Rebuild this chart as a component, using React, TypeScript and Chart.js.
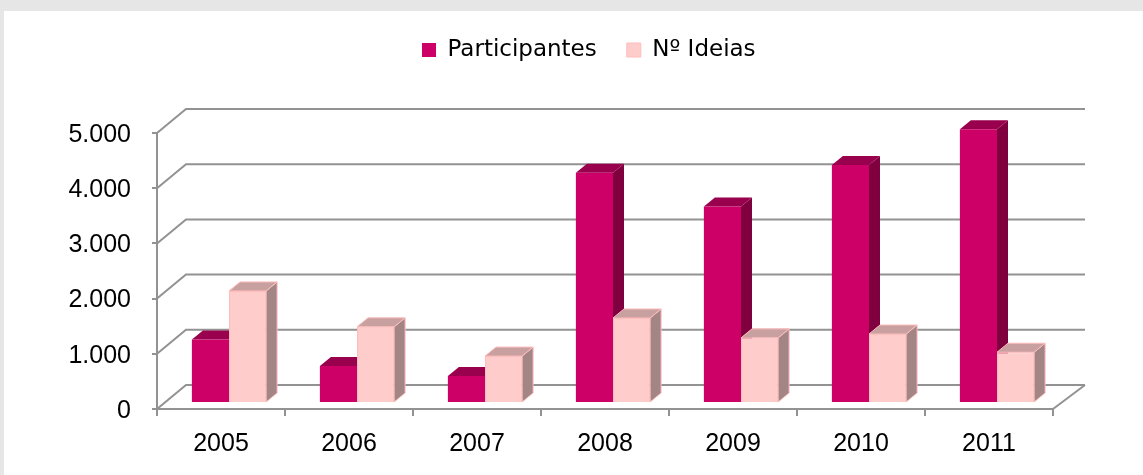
import { useEffect, useRef } from 'react';
import { Chart, registerables } from 'chart.js';

Chart.register(...registerables);

// ---- data ----
const categories = ['2005', '2006', '2007', '2008', '2009', '2010', '2011'];
const participantes = [1150, 670, 490, 4170, 3560, 4310, 4960];
const ideias = [2030, 1380, 850, 1540, 1180, 1250, 920];
const seriesNames = ['Participantes', 'Nº Ideias'];
const yTickLabels = ['0', '1.000', '2.000', '3.000', '4.000', '5.000'];

// ---- style ----
const GRID = '#929292';
const FACE = [
  { front: '#cc0066', top: '#99004d', side: '#80003f', edge: '' },
  { front: '#ffcccc', top: '#c8a0a0', side: '#a38585', edge: '#ffbcbc' },
];
const BAR_DX = 8;
const BAR_DY = -6;
const DEPTH_DX = 11;
const DEPTH_DY = -9;
const BACK_DXL = 29;
const BACK_DXR = 32;
const BACK_DY = -24;

const threeD = {
  id: 'threeD',
  afterInit(chart: any) {
    const lg = chart.legend;
    if (lg) {
      const f = lg.fit.bind(lg);
      lg.fit = function () {
        f();
        this.height = 122;
      };
    }
  },
  beforeDraw(chart: any) {
    const lg = chart.legend;
    if (lg) {
      lg.left = 388;
      lg.right = 1139;
      lg.top = -2.5;
    }
  },
  beforeDatasetsDraw(chart: any) {
    const ctx = chart.ctx;
    const ys = chart.scales.y;
    const { left, right } = chart.chartArea;
    ctx.save();
    ctx.strokeStyle = GRID;
    ctx.lineWidth = 2;
    ctx.beginPath();
    ys.ticks.forEach((t: any) => {
      const py = ys.getPixelForValue(t.value);
      ctx.moveTo(left, py);
      ctx.lineTo(left + BACK_DXL, py + BACK_DY);
      ctx.lineTo(right + BACK_DXR, py + BACK_DY);
    });
    const p0 = ys.getPixelForValue(0);
    ctx.moveTo(right, p0);
    ctx.lineTo(right + BACK_DXR, p0 + BACK_DY);
    ctx.stroke();
    ctx.restore();

    ctx.save();
    ctx.translate(BAR_DX, BAR_DY);
    const metas = chart.data.datasets.map((_: any, i: number) => chart.getDatasetMeta(i));
    for (let k = 0; k < categories.length; k++) {
      metas.forEach((m: any, di: number) => {
        const el = m.data[k];
        if (!el) return;
        const { x, y, base, width } = el.getProps(['x', 'y', 'base', 'width'], true);
        const l = x - width / 2;
        const r = x + width / 2;
        const c = FACE[di];
        // side
        ctx.beginPath();
        ctx.moveTo(r, y);
        ctx.lineTo(r + DEPTH_DX, y + DEPTH_DY);
        ctx.lineTo(r + DEPTH_DX, base + DEPTH_DY);
        ctx.lineTo(r, base);
        ctx.closePath();
        ctx.fillStyle = c.side;
        ctx.fill();
        if (c.edge) {
          ctx.strokeStyle = c.edge;
          ctx.lineWidth = 1;
          ctx.stroke();
        }
        // top
        ctx.beginPath();
        ctx.moveTo(l, y);
        ctx.lineTo(l + DEPTH_DX, y + DEPTH_DY);
        ctx.lineTo(r + DEPTH_DX, y + DEPTH_DY);
        ctx.lineTo(r, y);
        ctx.closePath();
        ctx.fillStyle = c.top;
        ctx.fill();
        if (c.edge) {
          ctx.strokeStyle = c.edge;
          ctx.lineWidth = 1;
          ctx.stroke();
        }
      });
    }
  },
  afterDatasetsDraw(chart: any) {
    chart.ctx.restore();
  },
};

export default function App() {
  const ref = useRef<HTMLCanvasElement>(null);
  useEffect(() => {
    const chart = new Chart(ref.current as HTMLCanvasElement, {
      type: 'bar',
      data: {
        labels: categories,
        datasets: [
          {
            label: seriesNames[0],
            data: participantes,
            backgroundColor: FACE[0].front,
            borderWidth: 0,
            clip: false as any,
            categoryPercentage: 0.58,
            barPercentage: 1,
          },
          {
            label: seriesNames[1],
            data: ideias,
            backgroundColor: FACE[1].front,
            borderColor: FACE[1].edge,
            borderWidth: 1,
            clip: false as any,
            categoryPercentage: 0.58,
            barPercentage: 1,
          },
        ],
      },
      options: {
        responsive: false,
        devicePixelRatio: 1,
        animation: false,
        events: [],
        layout: { padding: { left: 0, right: 90, top: 0, bottom: 0 } },
        plugins: {
          tooltip: { enabled: false },
          legend: {
            display: true,
            position: 'top',
            align: 'start',
            labels: {
              boxWidth: 14,
              boxHeight: 14,
              padding: 30,
              color: '#000',
              font: { family: 'DejaVu Sans', size: 23 },
            },
          },
        },
        scales: {
          x: {
            offset: true,
            grid: {
              display: true,
              drawOnChartArea: false,
              drawTicks: true,
              tickLength: 7,
              color: GRID,
              lineWidth: 2,
              offset: true,
            },
            border: { display: true, color: GRID, width: 2 },
            ticks: {
              color: '#000',
              padding: 13,
              font: { family: 'Liberation Sans', size: 25 },
              maxRotation: 0,
            },
            afterFit: (s: any) => {
              s.height = 66;
            },
          },
          y: {
            min: 0,
            max: 5000,
            grid: {
              display: true,
              drawOnChartArea: false,
              drawTicks: true,
              tickLength: 5,
              color: GRID,
              lineWidth: 2,
            },
            border: { display: true, color: GRID, width: 2 },
            ticks: {
              stepSize: 1000,
              color: '#000',
              padding: 21,
              labelOffset: 2,
              font: { family: 'Liberation Sans', size: 25 },
              callback: (_v: any, i: number) => yTickLabels[i],
            },
            afterFit: (s: any) => {
              s.width = 153;
            },
          },
        },
      },
      plugins: [threeD],
    });
    return () => chart.destroy();
  }, []);

  return (
    <div style={{ position: 'fixed', inset: 0, background: '#e6e6e6' }}>
      <div
        style={{
          position: 'absolute',
          left: 4,
          top: 11,
          right: 0,
          bottom: 0,
          background: '#ffffff',
        }}
      >
        <canvas
          ref={ref}
          width={1139}
          height={464}
          style={{ display: 'block', width: 1139, height: 464 }}
        />
      </div>
    </div>
  );
}
